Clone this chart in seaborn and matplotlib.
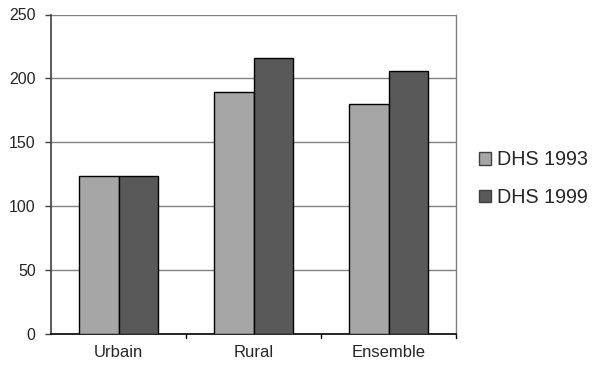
import matplotlib
matplotlib.use("Agg")
import matplotlib.pyplot as plt
import seaborn as sns
import pandas as pd

categories = ["Urbain", "Rural", "Ensemble"]
dhs_1993 = [124, 189, 180]
dhs_1999 = [124, 216, 206]
series_names = ["DHS 1993", "DHS 1999"]
y_ticks = [0, 50, 100, 150, 200, 250]

df = pd.DataFrame({
    "cat": categories * 2,
    "val": dhs_1993 + dhs_1999,
    "serie": [series_names[0]] * 3 + [series_names[1]] * 3,
})

sns.set_theme(style="white")
plt.rcParams["font.family"] = ["Liberation Sans", "DejaVu Sans"]

fig = plt.figure(figsize=(5.97, 3.68), dpi=100)
ax = fig.add_axes([51/597, 34/368, 405/597, 319.5/368])

palette = {"DHS 1993": "#A6A6A6", "DHS 1999": "#595959"}
sns.barplot(data=df, x="cat", y="val", hue="serie", order=categories,
            hue_order=series_names, palette=palette, width=0.58,
            edgecolor="black", linewidth=1.0, saturation=1, ax=ax, legend=True, zorder=3)

ax.set_ylim(0, 250)
ax.set_xlim(-0.5, 2.5)
ax.set_yticks(y_ticks)
ax.set_yticklabels([str(t) for t in y_ticks], fontsize=11.5)
for t in y_ticks[1:]:
    ax.axhline(t, color="#808080", linewidth=1.0, zorder=1)
ax.set_xlabel("")
ax.set_ylabel("")
ax.tick_params(axis="x", length=0, labelsize=12, pad=8)
ax.tick_params(axis="y", length=4, width=1, color="#404040", direction="out", left=True, pad=7)
for xb in [0.5, 1.5, 2.5]:
    ax.plot([xb, xb], [0, -3.5], color="black", linewidth=1, clip_on=False)

ax.spines["top"].set_visible(False)
ax.spines["right"].set_color("#808080")
ax.spines["right"].set_linewidth(1)
ax.spines["left"].set_color("#404040")
ax.spines["left"].set_linewidth(1.2)
ax.spines["bottom"].set_color("black")
ax.spines["bottom"].set_linewidth(1.2)

handles, labels = ax.get_legend_handles_labels()
leg = ax.legend(handles, labels, loc="center left", bbox_to_anchor=(479/597, 189.5/368),
                bbox_transform=fig.transFigure, frameon=False,
                prop={"size": 14.2},
                handlelength=0.62, handleheight=0.62, handletextpad=0.3, labelspacing=0.95,
                borderpad=0, borderaxespad=0)
for h in leg.legend_handles:
    h.set_edgecolor("#404040")

fig.savefig("out.png", dpi=100)
